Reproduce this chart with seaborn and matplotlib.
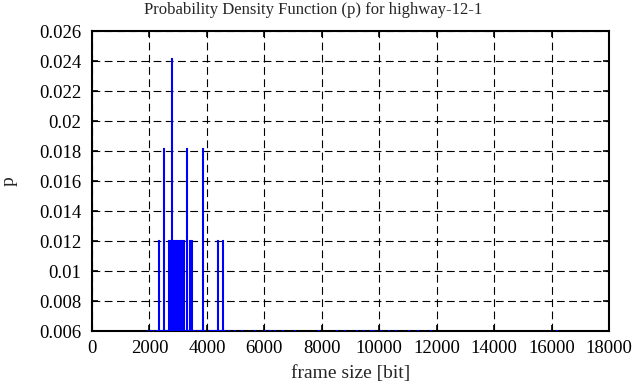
import seaborn as sns
import matplotlib.pyplot as plt

# frame sizes [bit] with their probability
frame_size = [2337, 2500, 2670, 2730, 2790, 2850, 2910, 2970, 3030, 3090, 3150, 3190,
              3302, 3418, 3476, 3872, 4395, 4569]
p = [0.0120, 0.0181, 0.0120, 0.0120, 0.0241, 0.0120, 0.0120, 0.0120, 0.0120, 0.0120,
     0.0120, 0.0120, 0.0181, 0.0120, 0.0120, 0.0181, 0.0120, 0.0120]

# single occurrences, they sit on the lower border
single_size = [1950, 2050, 2150, 2250, 2380, 2450, 2560, 2620, 3250, 3350, 3530, 3600,
               3680, 3750, 3800, 3930, 4100, 4180, 4250, 4330, 4470, 4520, 4640, 4780,
               4990, 5230, 5690, 6030, 6210, 6383, 6662, 7080, 7918, 8546, 8825, 9243,
               9453, 9697, 9801, 10045, 10324, 10568, 11022, 11336, 11789, 16184]
single_p = [0.00602] * len(single_size)

x_ticks = list(range(0, 18001, 2000))
y_ticks = [0.006, 0.008, 0.01, 0.012, 0.014, 0.016, 0.018, 0.02, 0.022, 0.024, 0.026]
y_labels = ["0.006", "0.008", "0.01", "0.012", "0.014", "0.016", "0.018", "0.02",
            "0.022", "0.024", "0.026"]

sns.set_theme(style="ticks")
plt.rcParams["font.family"] = ["Liberation Serif", "DejaVu Serif"]
plt.rcParams["font.size"] = 12

fig = plt.figure(figsize=(6.36, 3.87), dpi=100)
ax = fig.add_axes([92 / 636, 1 - 331 / 387, 517 / 636, 300 / 387])

ax.vlines(frame_size, 0, p, color="#0000ff", linewidth=1.5, capstyle="projecting", zorder=3)
ax.vlines(single_size, 0, single_p, color="#0000ff", linewidth=1.5, capstyle="projecting", zorder=3)

ax.set_xlim(0, 18000)
ax.set_ylim(0.006, 0.026)
ax.set_xticks(x_ticks)
ax.set_xticklabels([str(t) for t in x_ticks])
ax.set_yticks(y_ticks)
ax.set_yticklabels(y_labels)

ax.grid(True, color="black", linestyle=(0, (7, 4)), linewidth=0.8)
ax.tick_params(direction="in", length=4.5, width=1.2, top=True, right=True,
               labelsize=13.5, colors="black")
ax.tick_params(axis="y", pad=7.5)
ax.tick_params(axis="x", pad=6.5)
for s in ax.spines.values():
    s.set_linewidth(1.5)
    s.set_color("black")
    s.set_zorder(2.5)

fig.suptitle("Probability Density Function (p) for highway-12-1", fontsize=12,
             x=313.5 / 636, y=1 - 2 / 387, va="top")
ax.set_xlabel("frame size [bit]", fontsize=14)
ax.xaxis.set_label_coords(0.5, -(365 - 331) / 300)
ax.set_ylabel("p", fontsize=14)
ax.yaxis.set_label_coords(-(92 - 18) / 517, 0.5)

fig.savefig("out.png", dpi=100)
